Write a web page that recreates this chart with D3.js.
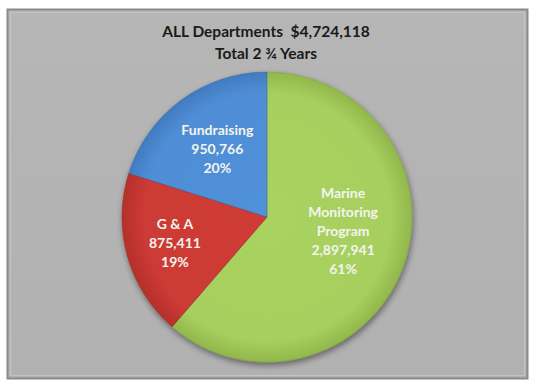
<!DOCTYPE html>
<html><head><meta charset="utf-8">
<script src="https://cdn.jsdelivr.net/npm/d3@7"></script>
<style>body{margin:0;background:#fff;}svg{display:block;} text{white-space:pre;}</style>
</head><body>
<script>
const categories = ["Marine Monitoring Program", "G & A", "Fundraising"];
const labelLines = [["Marine","Monitoring","Program"],["G & A"],["Fundraising"]];
const values = [2897941, 875411, 950766];
const percents = ["61%", "19%", "20%"];
const titleLines = ["ALL Departments  $4,724,118", "Total 2 \u00BE Years"];
const colors = ["#a6cf5e", "#cc3a35", "#4f8ed6"];
const darkColors = ["#7fa23c", "#9e2621", "#3569ad"];

const W = 534, H = 381;
const svg = d3.select("body").append("svg").attr("width", W).attr("height", H);
const defs = svg.append("defs");

const fg = defs.append("linearGradient").attr("id","frameg").attr("x1",0).attr("y1",0).attr("x2",0).attr("y2",1);
fg.append("stop").attr("offset","0%").attr("stop-color","#b6b6b6");
fg.append("stop").attr("offset","100%").attr("stop-color","#b1b1b1");

svg.append("rect").attr("x",7.5).attr("y",9.5).attr("width",520).attr("height",369)
  .attr("fill","url(#frameg)").attr("stroke","#8a8a8a").attr("stroke-width",2);
svg.append("rect").attr("x",10.5).attr("y",12.5).attr("width",514).attr("height",363)
  .attr("fill","none").attr("stroke","#c4c4c4").attr("stroke-width",1);

const f = defs.append("filter").attr("id","shadow").attr("x","-20%").attr("y","-20%").attr("width","140%").attr("height","140%");
f.append("feGaussianBlur").attr("in","SourceAlpha").attr("stdDeviation",3).attr("result","b");
f.append("feOffset").attr("in","b").attr("dx",1).attr("dy",3).attr("result","o");
f.append("feComponentTransfer").attr("in","o").attr("result","o2")
  .append("feFuncA").attr("type","linear").attr("slope",0.45);
const fm = f.append("feMerge");
fm.append("feMergeNode").attr("in","o2");
fm.append("feMergeNode").attr("in","SourceGraphic");

colors.forEach((c,i)=>{
  const g = defs.append("radialGradient").attr("id","sg"+i)
    .attr("gradientUnits","userSpaceOnUse").attr("cx",0).attr("cy",0).attr("r",146);
  g.append("stop").attr("offset","0%").attr("stop-color", d3.color(c).brighter(0.05));
  g.append("stop").attr("offset","85%").attr("stop-color", c);
  g.append("stop").attr("offset","100%").attr("stop-color", d3.interpolateRgb(c, darkColors[i])(0.55));
});

const title = svg.append("g").attr("font-family","Lato, 'Open Sans', sans-serif").attr("font-weight","bold")
  .attr("font-size",15.5).attr("fill","#1a1a1a").attr("text-anchor","middle");
titleLines.forEach((t,i)=>{
  title.append("text").attr("x",266).attr("y",37 + i*22).text(t);
});

const cx = 267, cy = 217, R = 145;
const pie = d3.pie().sort(null).value(d=>d)(values);
const arc = d3.arc().innerRadius(0).outerRadius(R);

const g = svg.append("g").attr("transform",`translate(${cx},${cy})`);
const pg = g.append("g").attr("filter","url(#shadow)");
pg.selectAll("path").data(pie).join("path")
  .attr("d", arc)
  .attr("fill",(d,i)=>`url(#sg${i})`)
  .attr("stroke",(d,i)=>darkColors[i]).attr("stroke-width",0.8).attr("stroke-opacity",0.6);

const labelRadius = [0.56, 0.66, 0.58];
const labelShift = [-14, 0, 0];
const lg = g.append("g").attr("font-family","Lato, 'Open Sans', sans-serif").attr("font-weight","bold")
  .attr("font-size",14).attr("fill","#f4f4ee").attr("text-anchor","middle");
pie.forEach((d,i)=>{
  const la = d3.arc().innerRadius(R*labelRadius[i]).outerRadius(R*labelRadius[i]);
  const [lx, ly] = la.centroid(d);
  const lines = labelLines[i].concat([d3.format(",")(values[i]), percents[i]]);
  const lh = 19;
  const y0 = ly + labelShift[i] - (lines.length-1)*lh/2;
  lines.forEach((t,j)=>{
    lg.append("text").attr("x",lx).attr("y",y0 + j*lh).attr("dy","0.35em").text(t);
  });
});
</script>
</body></html>
